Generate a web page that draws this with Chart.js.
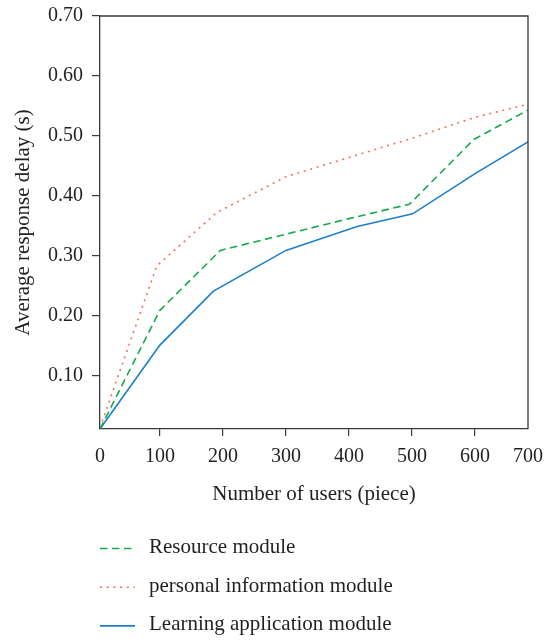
<!DOCTYPE html>
<html>
<head>
<meta charset="utf-8">
<script src="https://cdn.jsdelivr.net/npm/chart.js@4.4.0/dist/chart.umd.min.js"></script>
<style>
  html, body { margin: 0; padding: 0; background: #fff; }
  #wrap { width: 544px; height: 642px; }
</style>
</head>
<body>
<div id="wrap"><canvas id="delayChart"></canvas></div>
<script>
// ---- values ----
const seriesNames = ["Resource module", "personal information module", "Learning application module"];

const resourceUsers = [5, 100, 196, 300, 400, 496, 598, 684];
const resourceDelay = [0.011, 0.209, 0.309, 0.336, 0.362, 0.386, 0.494, 0.543];

const personalUsers = [5, 95, 190, 300, 400, 500, 600, 684];
const personalDelay = [0.013, 0.283, 0.372, 0.432, 0.464, 0.496, 0.531, 0.553];

const learningUsers = [5, 100, 185, 300, 413, 501, 600, 684];
const learningDelay = [0.011, 0.151, 0.241, 0.309, 0.349, 0.370, 0.437, 0.490];

// x axis of the figure is drawn with "0" and "700" sitting on the frame edges
const xTickValues = [5, 100, 200, 300, 400, 500, 600, 684];
const xTickLabels = ["0", "100", "200", "300", "400", "500", "600", "700"];
const yTickValues = [0.10, 0.20, 0.30, 0.40, 0.50, 0.60, 0.70];

const FONT = "'Liberation Serif', 'Times New Roman', serif";
const TEXT = "#231f20";
const AXIS = "#3a3a3a";

const toPoints = (xs, ys) => xs.map((x, i) => ({ x: x, y: ys[i] }));

// box round the plot (top + right side; left/bottom come from the axes)
const framePlugin = {
  id: "frame",
  afterDatasetsDraw(chart) {
    const { ctx, chartArea: a } = chart;
    ctx.save();
    ctx.strokeStyle = AXIS;
    ctx.lineWidth = 1.3;
    ctx.beginPath();
    ctx.moveTo(a.left, a.top);
    ctx.lineTo(a.right, a.top);
    ctx.lineTo(a.right, a.bottom);
    ctx.stroke();
    ctx.restore();
  }
};

// stacked legend under the x axis title
const stackLegend = {
  id: "stackLegend",
  afterDraw(chart) {
    const { ctx, chartArea } = chart;
    const x0 = chartArea.left;
    ctx.save();
    chart.data.datasets.forEach((ds, i) => {
      const y = chartArea.bottom + 119.5 + i * 38.7;
      ctx.strokeStyle = ds.borderColor;
      ctx.lineWidth = ds.borderWidth;
      ctx.setLineDash(ds.borderDash || []);
      ctx.beginPath();
      ctx.moveTo(x0, y);
      ctx.lineTo(x0 + 35, y);
      ctx.stroke();
      ctx.setLineDash([]);
      ctx.fillStyle = TEXT;
      ctx.font = "21px " + FONT;
      ctx.textAlign = "left";
      ctx.textBaseline = "middle";
      ctx.fillText(ds.label, x0 + 49, y - 1);
    });
    ctx.restore();
  }
};

new Chart(document.getElementById("delayChart"), {
  type: "line",
  data: {
    datasets: [
      {
        label: seriesNames[0],
        data: toPoints(resourceUsers, resourceDelay),
        borderColor: "#17a84b",
        borderWidth: 1.6,
        borderDash: [7.5, 4.5]
      },
      {
        label: seriesNames[1],
        data: toPoints(personalUsers, personalDelay),
        borderColor: "#f2705c",
        borderWidth: 1.6,
        borderDash: [2, 4.7]
      },
      {
        label: seriesNames[2],
        data: toPoints(learningUsers, learningDelay),
        borderColor: "#1b7fcc",
        borderWidth: 1.6,
        borderDash: []
      }
    ]
  },
  options: {
    responsive: true,
    maintainAspectRatio: false,
    animation: false,
    layout: { padding: { left: 0, right: 16, top: 16, bottom: 133 } },
    elements: {
      point: { radius: 0, hoverRadius: 0 },
      line: { tension: 0, fill: false }
    },
    plugins: {
      legend: { display: false },
      tooltip: { enabled: false }
    },
    scales: {
      x: {
        type: "linear",
        min: 5,
        max: 684,
        afterBuildTicks: (scale) => { scale.ticks = xTickValues.map(v => ({ value: v })); },
        afterFit: (scale) => {
          scale.height = 80;
          scale.paddingLeft = 0;
          scale.paddingRight = 0;
        },
        ticks: {
          color: TEXT,
          font: { family: FONT, size: 20 },
          padding: 9,
          maxRotation: 0,
          autoSkip: false,
          callback: (v) => xTickLabels[xTickValues.indexOf(v)]
        },
        grid: {
          display: true,
          drawOnChartArea: false,
          drawTicks: true,
          tickLength: 7,
          lineWidth: 1.2,
          color: (c) => (c.tick && (c.tick.value === 5 || c.tick.value === 684)) ? "rgba(0,0,0,0)" : AXIS
        },
        border: { display: true, color: AXIS, width: 1.3 },
        title: {
          display: true,
          text: "Number of users (piece)",
          color: TEXT,
          font: { family: FONT, size: 21 },
          padding: { top: 0, bottom: 2 }
        }
      },
      y: {
        type: "linear",
        min: 0.011,
        max: 0.70,
        afterBuildTicks: (scale) => { scale.ticks = yTickValues.map(v => ({ value: v })); },
        afterFit: (scale) => {
          scale.width = 100;
          scale.paddingTop = 0;
          scale.paddingBottom = 0;
        },
        ticks: {
          color: TEXT,
          font: { family: FONT, size: 20 },
          padding: 9,
          callback: (v) => Number(v).toFixed(2)
        },
        grid: {
          display: true,
          drawOnChartArea: false,
          drawTicks: true,
          tickLength: 8,
          lineWidth: 1.2,
          color: AXIS
        },
        border: { display: true, color: AXIS, width: 1.3 },
        title: {
          display: true,
          text: "Average response delay (s)",
          color: TEXT,
          font: { family: FONT, size: 21 },
          padding: { top: 11, bottom: 0 }
        }
      }
    }
  },
  plugins: [framePlugin, stackLegend]
});
</script>
</body>
</html>
